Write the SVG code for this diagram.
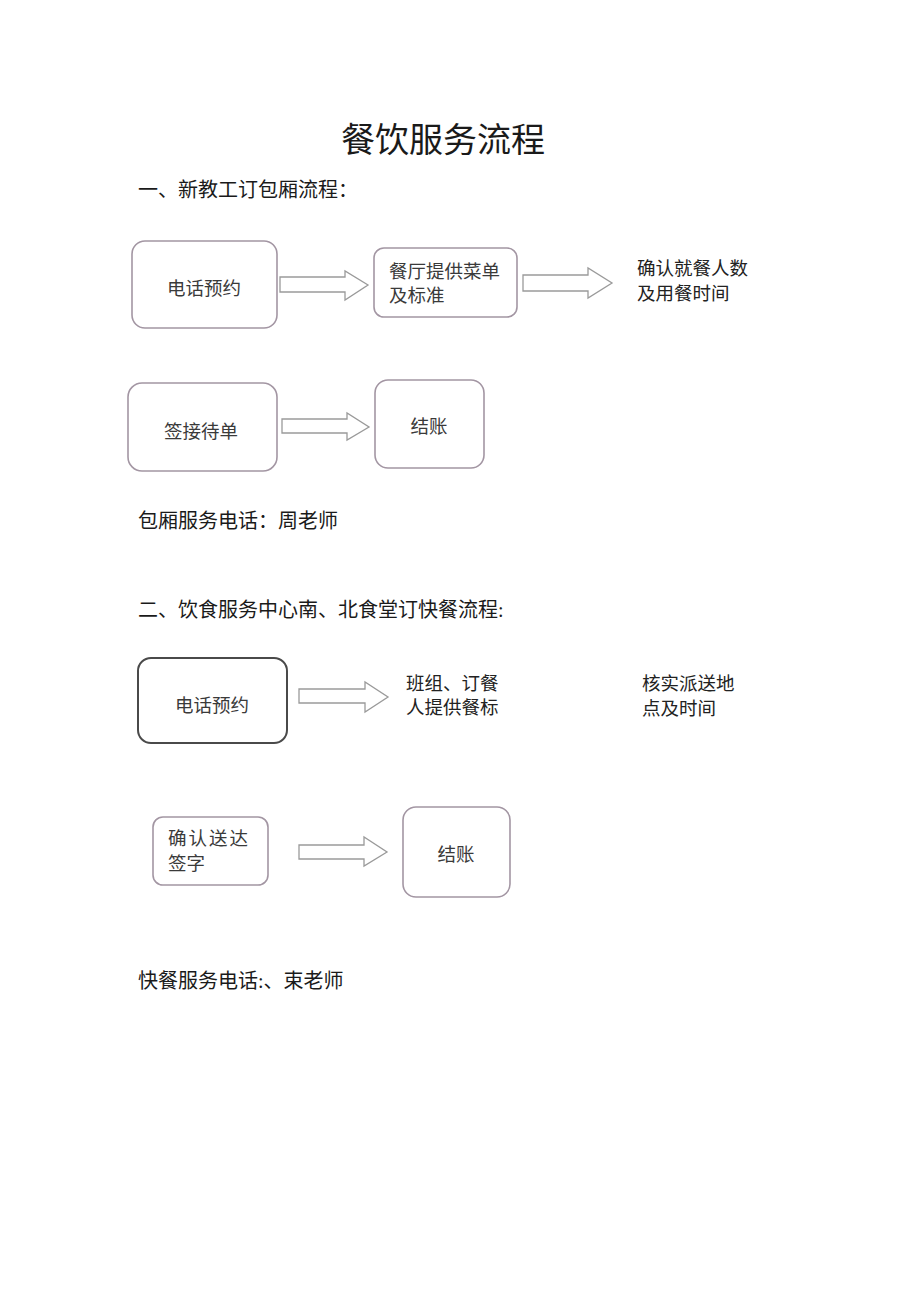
<svg xmlns="http://www.w3.org/2000/svg" width="920" height="1301" viewBox="0 0 920 1301">
<style>
text{font-family:"Liberation Serif","Noto Sans CJK SC",serif;fill:#1a1a1a}
.title{font-size:34px}
.h{font-size:20px}
.bt{font-size:18.5px;fill:#3a3a3a}
.nt{font-size:18.5px;fill:#222}
.box{fill:#fff;stroke:#a396a3;stroke-width:1.6}
.boxd{fill:#fff;stroke:#4a4a4a;stroke-width:2}
.arr{fill:#fff;stroke:#9a9a9a;stroke-width:1.3;stroke-linejoin:miter}
</style>
<rect width="920" height="1301" fill="#fff"/>
<text class="title" x="443" y="152" text-anchor="middle">餐饮服务流程</text>
<text class="h" x="138" y="197">一、新教工订包厢流程：</text>

<g id="n1"><rect class="box" x="132" y="241" width="145" height="87" rx="13"/><text class="bt" x="204" y="295" text-anchor="middle">电话预约</text></g>
<g id="n2"><rect class="box" x="374" y="248" width="143" height="69" rx="10"/><text class="bt" x="389" y="278">餐厅提供菜单</text><text class="bt" x="389" y="302">及标准</text></g>
<g id="n3"><text class="nt" x="637" y="275">确认就餐人数</text><text class="nt" x="637" y="300">及用餐时间</text></g>
<g id="n4"><rect class="box" x="128" y="383" width="149" height="88" rx="14"/><text class="bt" x="201" y="438" text-anchor="middle">签接待单</text></g>
<g id="n5"><rect class="box" x="375" y="380" width="109" height="88" rx="13"/><text class="bt" x="429" y="433" text-anchor="middle">结账</text></g>

<text class="h" x="138" y="528">包厢服务电话：周老师</text>
<text class="h" x="138" y="617">二、饮食服务中心南、北食堂订快餐流程:</text>

<g id="n6"><rect class="boxd" x="138" y="658" width="149" height="85" rx="13"/><text class="bt" x="212" y="712" text-anchor="middle">电话预约</text></g>
<g id="n7"><text class="nt" x="406" y="690">班组、订餐</text><text class="nt" x="406" y="714">人提供餐标</text></g>
<g id="n8"><text class="nt" x="642" y="690">核实派送地</text><text class="nt" x="642" y="715">点及时间</text></g>
<g id="n9"><rect class="box" x="153" y="817" width="115" height="68" rx="10"/><text class="bt" x="168" y="845" letter-spacing="2">确认送达</text><text class="bt" x="168" y="870">签字</text></g>
<g id="n10"><rect class="box" x="403" y="807" width="107" height="90" rx="13"/><text class="bt" x="456" y="861" text-anchor="middle">结账</text></g>

<text class="h" x="138" y="988">快餐服务电话:、束老师</text>

<g id="connectors">
<polygon class="arr" points="280,277 345,277 345,271 368,285 345,300 345,292 280,292"/>
<polygon class="arr" points="523,275 588,275 588,268 612,283 588,298 588,291 523,291"/>
<polygon class="arr" points="282,419 347,419 347,413 369,427 347,440 347,433 282,433"/>
<polygon class="arr" points="299,689 365,689 365,682 388,697 365,712 365,703 299,703"/>
<polygon class="arr" points="299,845 364,845 364,837 387,852 364,866 364,859 299,859"/>
</g>
</svg>
